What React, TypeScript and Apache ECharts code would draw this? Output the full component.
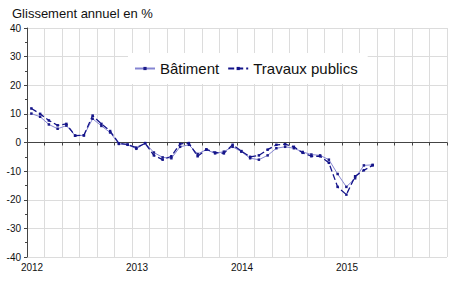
import React, { useEffect, useRef } from "react";
import * as echarts from "echarts";

const months: string[] = [
  "2012-01","2012-02","2012-03","2012-04","2012-05","2012-06","2012-07","2012-08","2012-09","2012-10","2012-11","2012-12",
  "2013-01","2013-02","2013-03","2013-04","2013-05","2013-06","2013-07","2013-08","2013-09","2013-10","2013-11","2013-12",
  "2014-01","2014-02","2014-03","2014-04","2014-05","2014-06","2014-07","2014-08","2014-09","2014-10","2014-11","2014-12",
  "2015-01","2015-02","2015-03","2015-04",
];

const batiment: number[] = [
  10.1, 9.0, 6.3, 4.8, 5.9, 2.4, 2.5, 8.3, 5.8, 3.5, -0.5, -0.8,
  -2.2, -0.2, -3.5, -5.2, -5.5, -1.5, -0.8, -4.0, -2.5, -3.8, -3.2, -1.5,
  -3.2, -5.5, -6.0, -4.5, -2.0, -1.5, -2.0, -3.3, -4.2, -4.5, -6.0, -11.0,
  -15.5, -12.5, -8.0, -7.8,
];

const travaux: number[] = [
  11.9, 10.0, 7.7, 6.0, 6.5, 2.4, 2.5, 9.4, 6.5, 4.0, -0.3, -0.7,
  -1.8, -0.3, -4.5, -6.0, -4.8, -0.5, -0.2, -4.8, -2.4, -3.5, -3.8, -0.8,
  -3.0, -5.0, -4.5, -2.5, -0.8, -0.6, -1.5, -3.6, -4.8, -4.8, -7.1, -15.5,
  -18.2, -11.8, -9.7, -8.0,
];

const startYear = 2012;
const yearLabels: string[] = ["2012", "2013", "2014", "2015"];

function monthPos(m: string): number {
  const [y, mo] = m.split("-").map(Number);
  return (y - startYear) * 12 + (mo - 1) + 0.5;
}

export default function App() {
  const ref = useRef<HTMLDivElement>(null);
  useEffect(() => {
    if (!ref.current) return;
    const chart = echarts.init(ref.current, null, { renderer: "svg" });
    const font = "Liberation Sans, Arial, sans-serif";
    chart.setOption({
      animation: false,
      textStyle: { fontFamily: font },
      title: {
        text: "Glissement annuel en %",
        left: 7,
        top: 2,
        textStyle: { fontSize: 13, fontWeight: "normal", color: "#111", fontFamily: font },
      },
      legend: {
        left: 128,
        top: 53,
        backgroundColor: "#ffffff",
        padding: [8, 10, 8, 6],
        itemWidth: 20,
        itemHeight: 4,
        itemGap: 8,
        textStyle: { fontSize: 15, color: "#111", fontFamily: font },
        data: ["Bâtiment", "Travaux publics"],
      },
      grid: { left: 27, right: 0, top: 28, bottom: 34 },
      xAxis: {
        type: "value",
        min: 0,
        max: 48,
        interval: 2,
        axisLine: { show: true, lineStyle: { color: "#444" } },
        axisTick: { show: true, length: 3, lineStyle: { color: "#444" } },
        axisLabel: {
          fontSize: 10,
          color: "#111",
          margin: 5,
          padding: [0, 0, 0, 10],
          formatter: (v: number) => {
            if (v % 12 !== 0) return "";
            const idx = v / 12;
            return yearLabels[idx] ?? "";
          },
        },
        splitLine: { show: true, lineStyle: { color: "#dcdcdc" } },
      },
      yAxis: {
        type: "value",
        min: -40,
        max: 40,
        interval: 10,
        axisLine: { show: true, lineStyle: { color: "#444" } },
        axisTick: { show: true, length: 3, lineStyle: { color: "#444" } },
        minorTick: { show: true, splitNumber: 2, length: 2, lineStyle: { color: "#444" } },
        axisLabel: { fontSize: 10, color: "#111", margin: 6 },
        splitLine: { show: true, lineStyle: { color: "#dcdcdc" } },
      },
      series: [
        {
          name: "Bâtiment",
          type: "line",
          data: months.map((m, i) => [monthPos(m), batiment[i]]),
          symbol: "rect",
          symbolSize: 2.5,
          lineStyle: { color: "#8585d2", width: 1 },
          itemStyle: { color: "#1c1c8a" },
        },
        {
          name: "Travaux publics",
          type: "line",
          data: months.map((m, i) => [monthPos(m), travaux[i]]),
          symbol: "rect",
          symbolSize: 2.5,
          lineStyle: { color: "#14148a", width: 1.3, type: [6, 3] },
          itemStyle: { color: "#14148a" },
        },
      ],
    });
    return () => chart.dispose();
  }, []);
  return (
    <div
      ref={ref}
      style={{ position: "absolute", left: 0, top: 0, width: 450, height: 291, background: "#fff" }}
    />
  );
}
